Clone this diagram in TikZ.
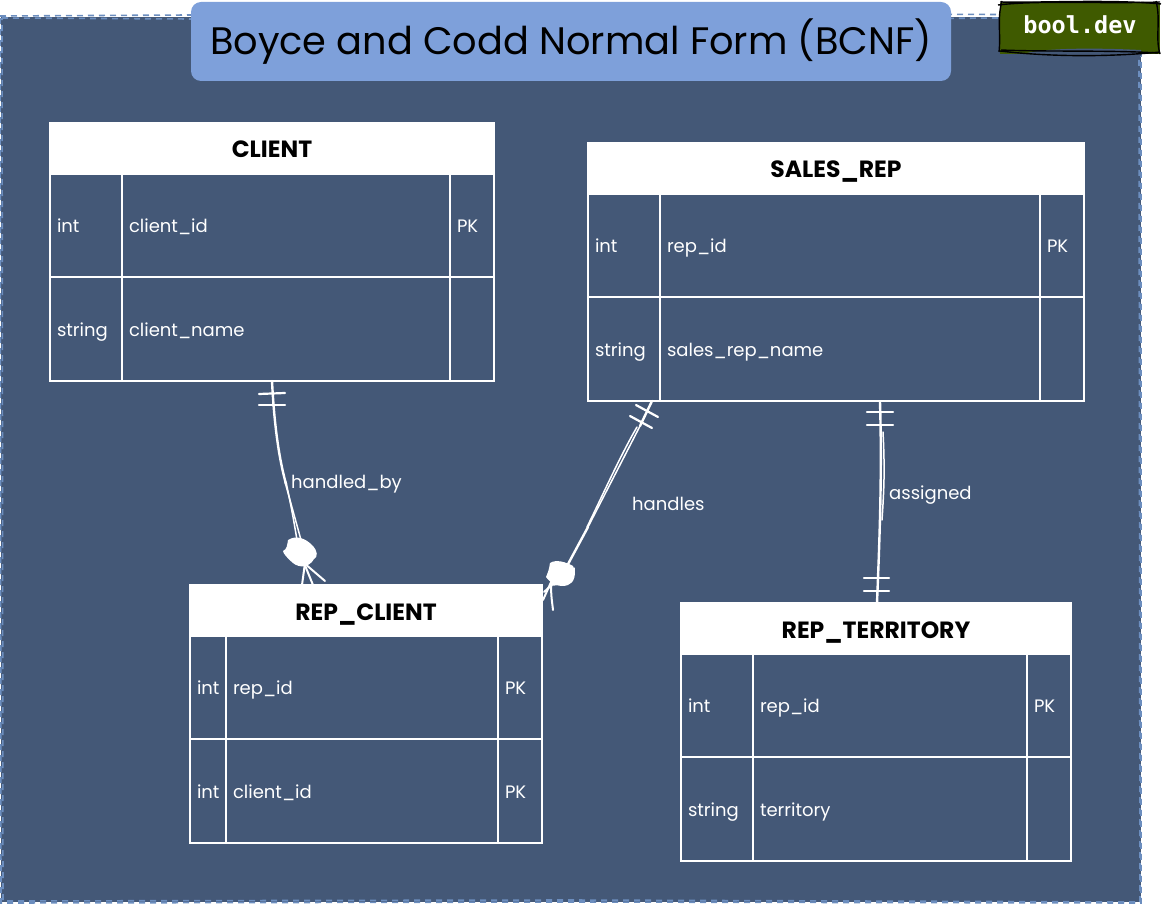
\documentclass[tikz,border=0pt]{standalone}
\usepackage{fontspec}
\setmainfont{Poppins}
\newfontfamily\badgefont{DejaVu Sans Mono}
\usetikzlibrary{calc}
\definecolor{panel}{HTML}{445877}
\definecolor{paneledge}{HTML}{6C8EBF}
\definecolor{titlefill}{HTML}{7EA0DA}
\definecolor{badgefill}{HTML}{3F5A00}
\tikzset{
  panelline/.style={draw=paneledge,line width=1.6pt,dash pattern=on 6pt off 5pt},
  titlebox/.style={fill=titlefill,draw=none,rounded corners=10pt,inner sep=0pt,outer sep=0pt,text=black,font=\fontsize{38.3}{44}\selectfont},
  badgebox/.style={fill=badgefill,draw=none,inner sep=0pt,outer sep=0pt,text=white,font=\badgefont\bfseries\fontsize{23.5}{26}\selectfont},
  badgesketch/.style={draw=black,line width=1.4pt},
  headcell/.style={fill=white,draw=white,line width=2pt,inner sep=0pt,outer sep=0pt,text=black,text height=24pt,text depth=5pt,font=\bfseries\fontsize{23.5}{27}\selectfont},
  datacell/.style={draw=white,line width=2pt,inner sep=0pt,inner xsep=7pt,outer sep=0pt,text=white,align=left,anchor=north west,text height=19pt,text depth=5pt,font=\fontsize{18}{21}\selectfont},
  link/.style={draw=white,line width=1.5pt,line cap=round},
  linkthick/.style={draw=white,line width=2.4pt,line cap=round},
  barmark/.style={draw=white,line width=2.2pt,line cap=round},
  footline/.style={draw=white,line width=2pt,line cap=round},
  linklabel/.style={text=white,inner sep=0pt,anchor=west,text height=17pt,text depth=5pt,font=\fontsize{18}{21}\selectfont},
}
% name x0 x1 x2 x3 y0 title {rows}
\newcommand{\ertable}[8]{%
  \pgfmathsetmacro{\wa}{#3-#2}\pgfmathsetmacro{\wb}{#4-#3}\pgfmathsetmacro{\wc}{#5-#4}%
  \pgfmathsetmacro{\wh}{#5-#2}%
  \node[headcell,anchor=north west,minimum width=\wh pt,minimum height=51pt] (#1-head) at (#2,#6) {#7};
  \ertablerows{#1}{#2}{#3}{#4}{#6}#8}
\newcommand{\ertablerows}[5]{\def\ernm{#1}\def\erxa{#2}\def\erxb{#3}\def\erxc{#4}\def\ery{#5}\ertablerowsb}
\newcommand{\ertablerowsb}[6]{%
  \pgfmathsetmacro{\wam}{\wa-14}\pgfmathsetmacro{\wbm}{\wb-14}\pgfmathsetmacro{\wcm}{\wc-14}%
  \pgfmathsetmacro{\ya}{\ery+51}\pgfmathsetmacro{\yb}{\ery+154}%
  \node[datacell,text width=\wam pt,minimum height=103pt] (\ernm-t1) at (\erxa,\ya) {#1};
  \node[datacell,text width=\wbm pt,minimum height=103pt] (\ernm-n1) at (\erxb,\ya) {#2};
  \node[datacell,text width=\wcm pt,minimum height=103pt] (\ernm-k1) at (\erxc,\ya) {#3};
  \node[datacell,text width=\wam pt,minimum height=104pt] (\ernm-t2) at (\erxa,\yb) {#4};
  \node[datacell,text width=\wbm pt,minimum height=104pt] (\ernm-n2) at (\erxb,\yb) {#5};
  \node[datacell,text width=\wcm pt,minimum height=104pt] (\ernm-k2) at (\erxc,\yb) {#6};
}
\begin{document}
\begin{tikzpicture}[x=1pt,y=-1pt]
\useasboundingbox (0,0) rectangle (1162,904);
% panel
\fill[panel] (1,17) -- (1141,17) -- (1141,902) -- (1,902) -- cycle;
\draw[panelline] (0,16) -- (570,13) -- (1141,15) -- (1141,903) -- (570,902) -- (1,903) -- cycle;
\draw[panelline] (2,18) -- (570,21) -- (1000,18);
\draw[panelline] (1139,60) -- (1140,902) -- (570,900) -- (3,901) -- (2,18);
% title
\node[titlebox,minimum width=760pt,minimum height=79pt,anchor=north west] (title) at (191,2) {Boyce and Codd Normal Form (BCNF)};
% badge
\node[badgebox,minimum width=160pt,minimum height=51pt,anchor=north west] (badge) at (1000,3) {\raisebox{8pt}{bool.dev}};
\fill[panel] (1018,56) .. controls (1035,47) and (1100,48) .. (1141,50) -- (1141,56) -- cycle;
\draw[badgesketch] (998,5) .. controls (1040,0) and (1100,4) .. (1160,2);
\draw[badgesketch] (1000,2) .. controls (1040,3) and (1110,-1) .. (1161,4);
\draw[badgesketch] (1001,50) .. controls (1050,52) and (1110,50) .. (1158,53);
\draw[badgesketch] (1000,51) .. controls (1050,57) and (1110,57) .. (1160,52);
\draw[badgesketch] (1002,1) .. controls (997,18) and (1001,35) .. (999,52);
\draw[badgesketch] (1156,1) .. controls (1161,20) and (1155,38) .. (1160,54);
% tables
\ertable{client}{50}{122}{450}{494}{123}{CLIENT}{{int}{client\_id}{PK}{string}{client\_name}{}}
\ertable{salesrep}{588}{660}{1040}{1084}{143}{SALES\_REP}{{int}{rep\_id}{PK}{string}{sales\_rep\_name}{}}
\ertable{repclient}{190}{226}{498}{542}{585}{REP\_CLIENT}{{int}{rep\_id}{PK}{int}{client\_id}{PK}}
\ertable{repterr}{681}{753}{1027}{1071}{603}{REP\_TERRITORY}{{int}{rep\_id}{PK}{string}{territory}{}}
% connector 1: CLIENT to REP_CLIENT
\draw[linkthick] (client-n2.south west -| 272,381) .. controls (274,420) and (278,455) .. (286,484);
\draw[link] (285,482) -- (301,540);
\draw[link] (286,482) .. controls (291,505) and (294,522) .. (297,540);
\draw[barmark] (259,394) -- (285,393);
\draw[barmark] (259,405) -- (285,405);
\fill[white] (288,540) .. controls (296,535) and (305,538) .. (312,545) .. controls (318,551) and (318,557) .. (314,559) .. controls (309,568) and (299,568) .. (293,563) .. controls (287,558) and (283,553) .. (283,551) .. controls (287,549) and (287,546) .. (288,540) -- cycle;
\draw[footline] (304,563) -- (325,581);
\draw[footline] (305,563) -- (302,585);
\draw[footline] (304,563) -- (313,585);
% connector 2: SALES_REP to REP_CLIENT
\draw[linkthick] (salesrep-t2.south east -| 652,401) -- (640,426);
\draw[link] (640,426) -- (588,527);
\draw[link] (637,427) .. controls (621,454) and (598,505) .. (587,527);
\draw[linkthick] (588,527) -- (567,566);
\draw[barmark] (636,405) -- (658,417);
\draw[barmark] (630,416) -- (652,428);
\fill[white] (550,563) .. controls (556,559) and (566,562) .. (573,566) .. controls (577,574) and (574,583) .. (568,585) .. controls (560,588) and (551,584) .. (546,577) .. controls (548,572) and (549,570) .. (550,563) -- cycle;
\draw[footline] (552,580) -- (543,600);
\draw[footline] (552,578) .. controls (550,592) and (552,600) .. (553,610);
\draw[footline] (556,581) -- (544,592);
\draw[link] (574,568) .. controls (575,578) and (570,583) .. (553,585);
% connector 3: SALES_REP to REP_TERRITORY
\draw[linkthick] (880,402) .. controls (882,470) and (880,530) .. (877,603);
\draw[link] (883,432) .. controls (885,470) and (884,490) .. (882,520);
\draw[barmark] (867,412) -- (893,412);
\draw[barmark] (867,425) -- (893,425);
\draw[barmark] (864,578) -- (889,578);
\draw[barmark] (864,591) -- (889,591);
% labels
\node[linklabel] (lhandledby) at (291,482) {handled\_by};
\node[linklabel] (lhandles) at (632,504) {handles};
\node[linklabel] (lassigned) at (889,493) {assigned};
\end{tikzpicture}
\end{document}
